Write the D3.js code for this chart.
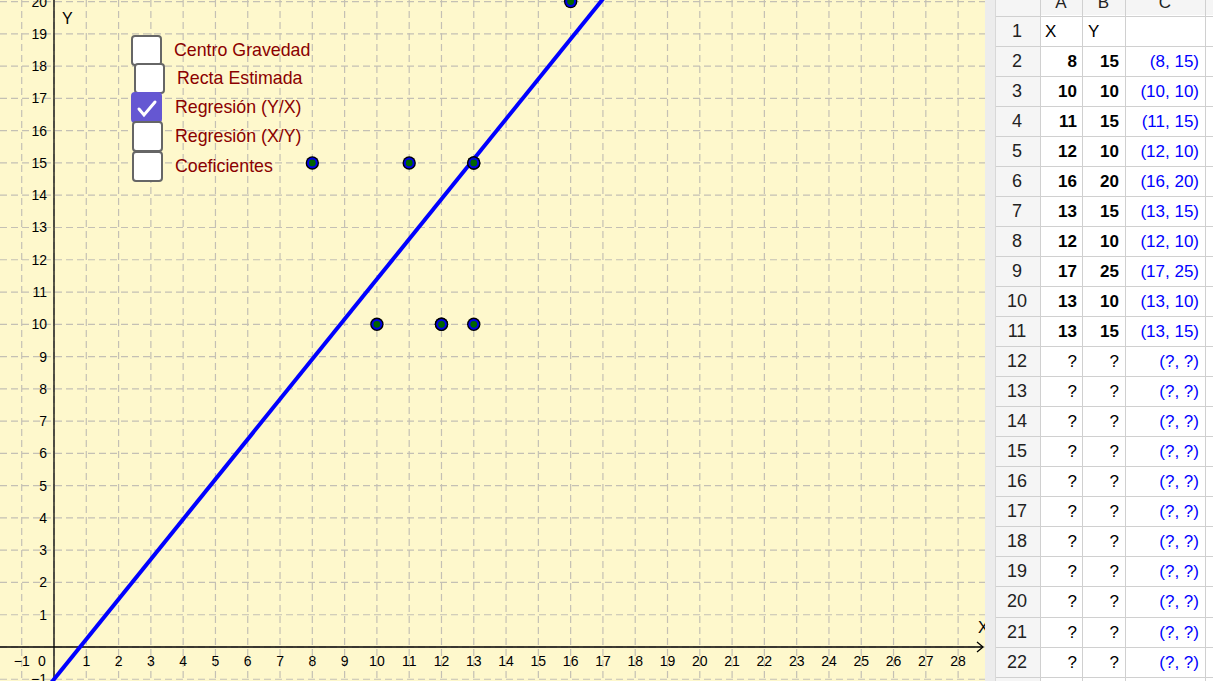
<!DOCTYPE html>
<html><head><meta charset="utf-8">
<script src="https://cdn.jsdelivr.net/npm/d3@7"></script>
<style>body{margin:0;overflow:hidden;background:#fff}svg{display:block;font-family:Arial,"Liberation Sans",sans-serif}</style>
</head><body>
<svg id="c" width="1213" height="681"></svg>
<script>
// ---- data ----
const xs = [8, 10, 11, 12, 16, 13, 12, 17, 13, 13];
const ys = [15, 10, 15, 10, 20, 15, 10, 25, 10, 15];
const rowNumbers = d3.range(1, 23);
const columnLetters = ["A", "B", "C"];
const checkboxLabels = ["Centro Gravedad", "Recta Estimada", "Regresión (Y/X)", "Regresión (X/Y)", "Coeficientes"];
const checkboxChecked = [false, false, true, false, false];
const xTicks = d3.range(1, 29);
const yTicks = d3.range(1, 21);

// regression Y on X computed from the data
const mx = d3.mean(xs), my = d3.mean(ys);
const slope = d3.sum(xs, (v, i) => (v - mx) * (ys[i] - my)) / d3.sum(xs, v => (v - mx) * (v - mx));
const intercept = my - slope * mx;

const svg = d3.select("#c");
const W = 985;
const x = d3.scaleLinear().domain([0, 28]).range([54, 54 + 28 * 32.29]);
const y = d3.scaleLinear().domain([0, 20]).range([647, 647 - 20 * 32.27]);

svg.append("defs").append("clipPath").attr("id", "gclip")
  .append("rect").attr("x", 0).attr("y", 0).attr("width", W).attr("height", 681);

const g = svg.append("g").attr("clip-path", "url(#gclip)");
g.append("rect").attr("width", W).attr("height", 681).attr("fill", "#fef8cc");

// grid
const gridColor = "#c4c0b4";
g.selectAll(".vg").data(d3.range(-1, 30)).join("line")
  .attr("x1", d => x(d)).attr("x2", d => x(d)).attr("y1", 0).attr("y2", 681)
  .attr("stroke", gridColor).attr("stroke-width", 1.2).attr("stroke-dasharray", "7,4");
g.selectAll(".hg").data(d3.range(-1, 22)).join("line")
  .attr("y1", d => y(d)).attr("y2", d => y(d)).attr("x1", 0).attr("x2", W)
  .attr("stroke", gridColor).attr("stroke-width", 1.2).attr("stroke-dasharray", "7,4");

// axes
g.append("line").attr("x1", 0).attr("x2", W - 2).attr("y1", y(0)).attr("y2", y(0)).attr("stroke", "#000").attr("stroke-width", 1.3);
g.append("path").attr("d", `M${W - 8},${y(0) - 5}L${W - 2},${y(0)}L${W - 8},${y(0) + 5}`).attr("fill", "none").attr("stroke", "#000").attr("stroke-width", 1.3);
g.append("line").attr("x1", x(0)).attr("x2", x(0)).attr("y1", 0).attr("y2", 681).attr("stroke", "#000").attr("stroke-width", 1.3);

const tickFont = 14;
g.selectAll(".xt").data(xTicks).join("text")
  .attr("x", d => x(d)).attr("y", y(0) + 19).attr("text-anchor", "middle")
  .attr("font-size", tickFont).attr("fill", "#000").text(d => d);
g.append("text").attr("x", x(-1)).attr("y", y(0) + 19).attr("text-anchor", "middle").attr("font-size", tickFont).text("\u22121");
g.append("text").attr("x", x(0) - 12).attr("y", y(0) + 19).attr("text-anchor", "middle").attr("font-size", tickFont).text("0");
g.selectAll(".yt").data(yTicks).join("text")
  .attr("x", x(0) - 7).attr("y", d => y(d) + 5).attr("text-anchor", "end")
  .attr("font-size", tickFont).attr("fill", "#000").text(d => d);
g.append("text").attr("x", x(0) - 7).attr("y", y(-1) + 5).attr("text-anchor", "end").attr("font-size", tickFont).text("\u22121");
g.append("text").attr("x", x(0) + 8).attr("y", 24).attr("font-size", 16).text("Y");
g.append("text").attr("x", W - 7).attr("y", y(0) - 14).attr("font-size", 16).text("X");

// regression line
g.append("line")
  .attr("x1", x(-1)).attr("y1", y(slope * -1 + intercept))
  .attr("x2", x(28)).attr("y2", y(slope * 28 + intercept))
  .attr("stroke", "#0000ff").attr("stroke-width", 4);

// points
const pts = g.selectAll(".pt").data(xs.map((v, i) => [v, ys[i]])).join("g")
  .attr("transform", d => `translate(${x(d[0])},${y(d[1])})`);
pts.append("circle").attr("r", 6.7).attr("fill", "#000");
pts.append("circle").attr("r", 5.4).attr("fill", "#0000e6");
pts.append("circle").attr("r", 3.4).attr("fill", "#006400");

// checkboxes
const cbX = [131, 134, 131, 132, 132];
const cbY = [35, 63, 92, 121, 151];
const lbX = [174, 177, 175, 175, 175];
checkboxLabels.forEach((lab, i) => {
  const on = checkboxChecked[i];
  g.append("rect").attr("x", cbX[i] + 1).attr("y", cbY[i] + 1).attr("width", 29).attr("height", 29).attr("rx", 3)
    .attr("fill", on ? "#6557d2" : "#fff").attr("stroke", on ? "#6557d2" : "#666").attr("stroke-width", 2);
  if (on) {
    g.append("path").attr("d", `M${cbX[i] + 8},${cbY[i] + 17}L${cbX[i] + 13},${cbY[i] + 23}L${cbX[i] + 24},${cbY[i] + 10}`)
      .attr("fill", "none").attr("stroke", "#fff").attr("stroke-width", 3).attr("stroke-linecap", "round");
  }
});
checkboxLabels.forEach((lab, i) => {
  g.append("text").attr("x", lbX[i]).attr("y", cbY[i] + 21).attr("font-size", 17.8).attr("fill", "#8b0000").text(lab);
});

// ---- spreadsheet ----
const s = svg.append("g");
s.append("rect").attr("x", W).attr("y", 0).attr("width", 1213 - W).attr("height", 681).attr("fill", "#fff");
s.append("rect").attr("x", W).attr("y", 0).attr("width", 10).attr("height", 681).attr("fill", "#ececec");
s.append("rect").attr("x", 995).attr("y", 0).attr("width", 45).attr("height", 681).attr("fill", "#f5f5f5");
s.append("rect").attr("x", 1040).attr("y", 0).attr("width", 173).attr("height", 15).attr("fill", "#f5f5f5");
const rowTop = i => 15.5 + (i - 1) * 30.05;
const colEdges = [1040, 1082, 1125, 1205];
const lineCol = "#d0d0d0";
// horizontal lines
s.selectAll(".hl").data(d3.range(1, 24)).join("line")
  .attr("x1", 995).attr("x2", 1213).attr("y1", d => Math.round(rowTop(d)) + 0.5).attr("y2", d => Math.round(rowTop(d)) + 0.5)
  .attr("stroke", lineCol);
s.selectAll(".vl").data(colEdges).join("line")
  .attr("x1", d => d + 0.5).attr("x2", d => d + 0.5).attr("y1", 0).attr("y2", 681).attr("stroke", lineCol);
s.append("line").attr("x1", 995.5).attr("x2", 995.5).attr("y1", 0).attr("y2", 681).attr("stroke", "#d8d8d8");
// column letters
columnLetters.forEach((c, i) => {
  s.append("text").attr("x", (colEdges[i] + colEdges[i + 1]) / 2).attr("y", 8).attr("text-anchor", "middle")
    .attr("font-size", 17).attr("fill", "#222").text(c);
});
// row numbers
s.selectAll(".rn").data(rowNumbers).join("text")
  .attr("x", 1017).attr("y", d => rowTop(d) + 21).attr("text-anchor", "middle")
  .attr("font-size", 18).attr("fill", "#222").text(d => d);
// header row 1
s.append("text").attr("x", 1045).attr("y", rowTop(1) + 21).attr("font-size", 17).text("X");
s.append("text").attr("x", 1088).attr("y", rowTop(1) + 21).attr("font-size", 17).text("Y");
// data rows
rowNumbers.slice(1).forEach((r, k) => {
  const has = k < xs.length;
  const a = has ? xs[k] : "?", b = has ? ys[k] : "?";
  s.append("text").attr("x", 1077).attr("y", rowTop(r) + 21).attr("text-anchor", "end").attr("font-size", 17)
    .attr("font-weight", has ? "bold" : "normal").text(a);
  s.append("text").attr("x", 1119).attr("y", rowTop(r) + 21).attr("text-anchor", "end").attr("font-size", 17)
    .attr("font-weight", has ? "bold" : "normal").text(b);
  s.append("text").attr("x", 1199).attr("y", rowTop(r) + 21).attr("text-anchor", "end").attr("font-size", 17)
    .attr("fill", "#0000ff").text(`(${a}, ${b})`);
});
</script>
</body></html>
